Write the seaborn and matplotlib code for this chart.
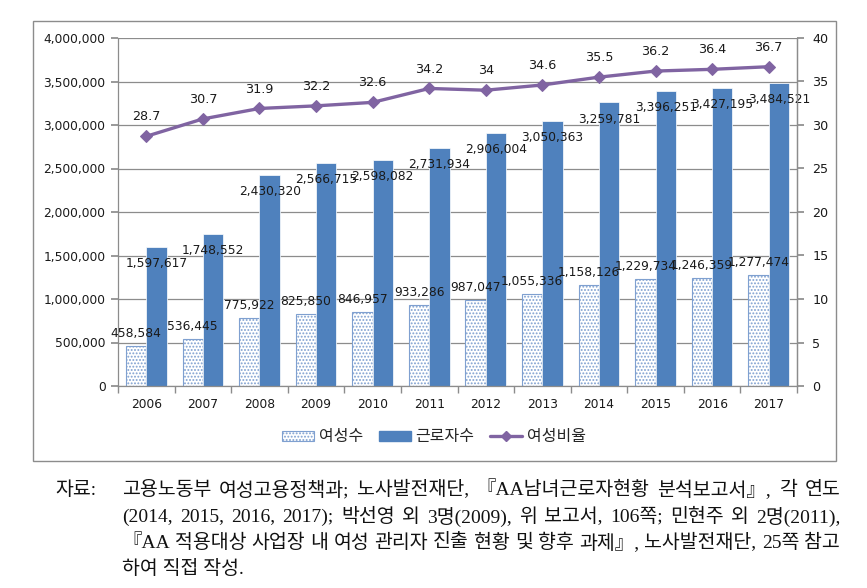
import matplotlib
matplotlib.use("Agg")
import matplotlib.pyplot as plt
import seaborn as sns
import numpy as np
import pandas as pd
from matplotlib.patches import Rectangle, Patch
from matplotlib.lines import Line2D
from matplotlib.ticker import FuncFormatter, MultipleLocator

years = ["2006", "2007", "2008", "2009", "2010", "2011", "2012", "2013", "2014", "2015", "2016", "2017"]
women = [458584, 536445, 775922, 825850, 846957, 933286, 987047, 1055336, 1158126, 1229734, 1246359, 1277474]
workers = [1597617, 1748552, 2430320, 2566715, 2598082, 2731934, 2906004, 3050363, 3259781, 3396251, 3427195, 3484521]
ratio = [28.7, 30.7, 31.9, 32.2, 32.6, 34.2, 34, 34.6, 35.5, 36.2, 36.4, 36.7]
series_names = ["여성수", "근로자수", "여성비율"]

source_lines = [
    "고용노동부 여성고용정책과; 노사발전재단, 『AA남녀근로자현황 분석보고서』, 각 연도",
    "(2014, 2015, 2016, 2017); 박선영 외 3명(2009), 위 보고서, 106쪽; 민현주 외 2명(2011),",
    "『AA 적용대상 사업장 내 여성 관리자 진출 현황 및 향후 과제』, 노사발전재단, 25쪽 참고",
    "하여 직접 작성.",
]

sns.set_theme(style="white")
plt.rcParams['font.family'] = ['Noto Sans CJK KR', 'DejaVu Sans']
plt.rcParams['hatch.linewidth'] = 0.9

W, H = 867, 588
fig = plt.figure(figsize=(W / 100, H / 100), dpi=100)
ax = fig.add_axes([118 / W, 1 - 386 / H, (797 - 118) / W, (386 - 38) / H])

df = pd.DataFrame({
    "year": years * 2,
    "value": women + workers,
    "series": [series_names[0]] * len(years) + [series_names[1]] * len(years),
})
blue = "#4F81BD"
light = "#7FA0D0"
sns.barplot(data=df, x="year", y="value", hue="series", order=years,
            hue_order=series_names[:2], palette=["white", blue], width=0.72,
            ax=ax, legend=False, saturation=1, errorbar=None)

n = len(years)
for i, p in enumerate(ax.patches[:2 * n]):
    if i < n:
        p.set_facecolor("white")
        p.set_edgecolor(light)
        p.set_hatch(".....")
        p.set_linewidth(0.8)
    else:
        p.set_facecolor(blue)
        p.set_edgecolor("white")
        p.set_linewidth(0.5)

ax.set_ylim(0, 4000000)
ax.set_xlim(-0.5, n - 0.5)
ax.yaxis.set_major_locator(MultipleLocator(500000))
ax.yaxis.set_major_formatter(FuncFormatter(lambda v, _: f"{int(v):,}"))
ax.grid(axis="y", color="#8C8C8C", linewidth=0.9)
ax.set_axisbelow(True)
ax.set_xlabel("")
ax.set_ylabel("")
ax.spines["top"].set_visible(False)
for s in ["left", "bottom", "right"]:
    ax.spines[s].set_color("#8C8C8C")
    ax.spines[s].set_linewidth(0.9)
ax.tick_params(axis="y", which="major", direction="out", length=5, color="#8C8C8C",
               labelsize=8.8, pad=4, left=True)
ax.tick_params(axis="x", which="major", length=0, labelsize=8.8, pad=9)
ax.set_xticks(np.arange(n + 1) - 0.5, minor=True)
ax.tick_params(axis="x", which="minor", direction="out", length=5, color="#8C8C8C", bottom=True)
for lab in ax.get_yticklabels() + ax.get_xticklabels():
    lab.set_color("#1a1a1a")
    lab.set_family(["DejaVu Sans"])

# bar labels
lab_fs = 8.8
for i in range(n):
    pw = ax.patches[i]
    ax.annotate(f"{women[i]:,}", (pw.get_x() + pw.get_width() / 2, women[i]),
                xytext=(0, 9), textcoords="offset points", ha="center", va="center",
                fontsize=lab_fs, color="#1a1a1a", family=["DejaVu Sans"])
    pk = ax.patches[n + i]
    ax.annotate(f"{workers[i]:,}", (pk.get_x() + pk.get_width() / 2, workers[i]),
                xytext=(0, -12), textcoords="offset points", ha="center", va="center",
                fontsize=lab_fs, color="#1a1a1a", family=["DejaVu Sans"])

ax2 = ax.twinx()
purple = "#8064A2"
xs = np.arange(n)
sns.lineplot(x=xs, y=ratio, ax=ax2, color=purple, linewidth=2.4, marker="D",
             markersize=6.5, markeredgecolor=purple, legend=False)
ax2.set_ylim(0, 40)
ax2.set_xlim(-0.5, n - 0.5)
ax2.yaxis.set_major_locator(MultipleLocator(5))
ax2.tick_params(axis="y", direction="out", length=5, color="#8C8C8C", labelsize=9.2, pad=6, right=True)
for lab in ax2.get_yticklabels():
    lab.set_family(["DejaVu Sans"])
    lab.set_color("#1a1a1a")
for s in ["top", "left", "bottom"]:
    ax2.spines[s].set_visible(False)
ax2.spines["right"].set_color("#8C8C8C")
ax2.spines["right"].set_linewidth(0.9)
ax2.grid(False)
for i in range(n):
    ax2.annotate(f"{ratio[i]:g}", (xs[i], ratio[i]), xytext=(0, 14), textcoords="offset points",
                 ha="center", va="center", fontsize=9.2, color="#1a1a1a", family=["DejaVu Sans"])

# legend
handles = [
    Patch(facecolor="white", edgecolor=light, hatch=".....", linewidth=0.8),
    Patch(facecolor=blue, edgecolor=blue),
    Line2D([0], [0], color=purple, linewidth=2.4, marker="D", markersize=5),
]
fig.legend(handles, series_names, loc="center", bbox_to_anchor=(434 / W, 1 - 437 / H), ncol=3,
           frameon=False, fontsize=11.5, handlelength=2.0, handleheight=0.6, columnspacing=1.0,
           handletextpad=0.3)

# outer frame
fig.patches.append(Rectangle((33 / W, 1 - 461 / H), (836 - 33) / W, (461 - 21) / H,
                             transform=fig.transFigure, fill=False, edgecolor="#8C8C8C", linewidth=1.0))

# source text with justification
fs = 14
tfam = ['Liberation Serif', 'Noto Sans CJK KR']
fig.text(55 / W, 1 - 490 / H, "자료:", fontsize=fs, ha="left", va="center", color="#111111", family=tfam)
fig.canvas.draw()
renderer = fig.canvas.get_renderer()
x0, x1 = 122, 840
ys = [490, 517, 543, 569]
for li, (line, y) in enumerate(zip(source_lines, ys)):
    words = line.split(" ")
    if li == len(source_lines) - 1:
        fig.text(x0 / W, 1 - y / H, line, fontsize=fs, ha="left", va="center", color="#111111", family=tfam)
        continue
    tmp = [fig.text(0, 0, w, fontsize=fs, family=tfam) for w in words]
    widths = [t.get_window_extent(renderer).width for t in tmp]
    for t in tmp:
        t.remove()
    gap = max(((x1 - x0) - sum(widths)) / (len(words) - 1), 2)
    x = x0
    for w, wd in zip(words, widths):
        fig.text(x / W, 1 - y / H, w, fontsize=fs, ha="left", va="center", color="#111111", family=tfam)
        x += wd + gap

fig.savefig("out.png", dpi=100)
